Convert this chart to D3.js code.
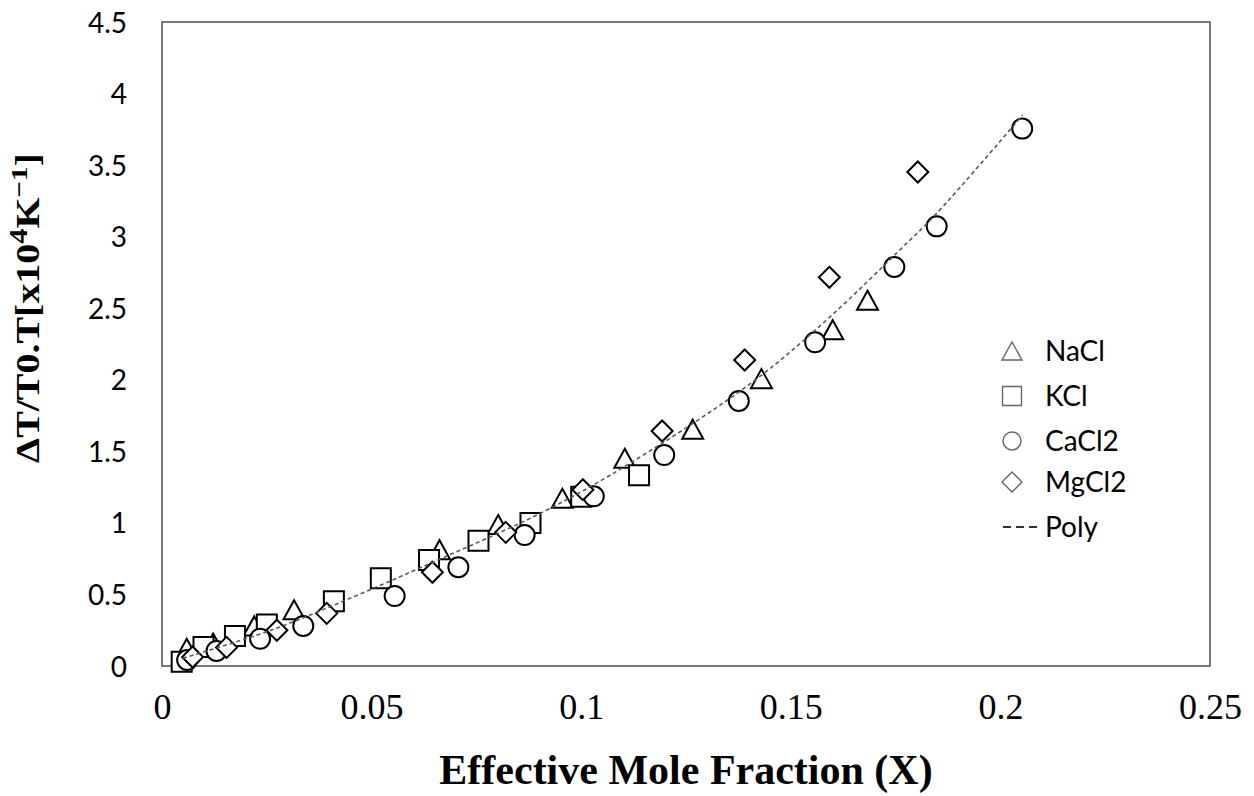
<!DOCTYPE html>
<html>
<head>
<meta charset="utf-8">
<script src="https://cdn.jsdelivr.net/npm/d3@7"></script>
<style>
  html, body { margin: 0; padding: 0; background: #fff; }
  svg { display: block; }
</style>
</head>
<body>
<svg id="chart" width="1254" height="796"></svg>
<script>
// ---------------- data ----------------
const xTicks = [0, 0.05, 0.1, 0.15, 0.2, 0.25];
const xTickLabels = ["0", "0.05", "0.1", "0.15", "0.2", "0.25"];
const yTicks = [0, 0.5, 1, 1.5, 2, 2.5, 3, 3.5, 4, 4.5];
const yTickLabels = ["0", "0.5", "1", "1.5", "2", "2.5", "3", "3.5", "4", "4.5"];

const seriesNames = ["NaCl", "KCl", "CaCl2", "MgCl2"];

const naclX = [0.0059, 0.0122, 0.022, 0.0315, 0.0662, 0.0802, 0.0955, 0.1104, 0.1266, 0.143, 0.160, 0.1683];
const naclY = [0.124, 0.16, 0.28, 0.393, 0.813, 0.989, 1.172, 1.451, 1.655, 2.008, 2.35, 2.555];

const kclX = [0.0047, 0.0099, 0.0174, 0.025, 0.041, 0.0522, 0.0637, 0.0755, 0.0879, 0.100, 0.1138];
const kclY = [0.03, 0.133, 0.21, 0.29, 0.452, 0.613, 0.74, 0.876, 1.0, 1.183, 1.333];

const caclX = [0.006, 0.013, 0.0234, 0.0337, 0.0555, 0.0707, 0.0865, 0.103, 0.1198, 0.1376, 0.1558, 0.1747, 0.1848, 0.2052];
const caclY = [0.042, 0.105, 0.19, 0.28, 0.489, 0.69, 0.915, 1.186, 1.474, 1.852, 2.262, 2.788, 3.072, 3.755];

const mgclX = [0.0073, 0.0154, 0.0274, 0.0393, 0.0645, 0.082, 0.1004, 0.1193, 0.139, 0.1592, 0.1803];
const mgclY = [0.063, 0.13, 0.25, 0.368, 0.655, 0.934, 1.232, 1.642, 2.138, 2.716, 3.452];

// points read along the dashed "Poly" trend line
const polyX = [0.005, 0.026, 0.047, 0.0615, 0.091, 0.1116, 0.141, 0.1594, 0.176, 0.1848, 0.2053];
const polyY = [0.055, 0.25, 0.50, 0.685, 1.078, 1.416, 1.987, 2.441, 2.907, 3.163, 3.85];

// ---------------- layout ----------------
const svg = d3.select("#chart");
const plotL = 162, plotR = 1210, plotT = 22, plotB = 666;

const x = d3.scaleLinear().domain([0, 0.25]).range([plotL, plotR]);
const y = d3.scaleLinear().domain([0, 4.5]).range([plotB, plotT]);

svg.append("rect").attr("width", 1254).attr("height", 796).attr("fill", "#fff");

// plot frame
svg.append("rect")
  .attr("x", plotL).attr("y", plotT)
  .attr("width", plotR - plotL).attr("height", plotB - plotT)
  .attr("fill", "none").attr("stroke", "#404040").attr("stroke-width", 1.4);

// y axis
const gy = svg.append("g").attr("transform", `translate(${plotL},0)`)
  .call(d3.axisLeft(y).tickValues(yTicks).tickFormat((d, i) => yTickLabels[i]).tickSize(0).tickPadding(35));
gy.select(".domain").remove();
gy.selectAll("text")
  .attr("font-family", "Lato, 'Open Sans', sans-serif")
  .attr("font-size", 28).attr("fill", "#000").attr("dy", "0.36em");

// x axis
const gx = svg.append("g").attr("transform", `translate(0,${plotB})`)
  .call(d3.axisBottom(x).tickValues(xTicks).tickFormat((d, i) => xTickLabels[i]).tickSize(0));
gx.select(".domain").remove();
gx.selectAll("text")
  .attr("font-family", "'Liberation Serif', 'Times New Roman', serif")
  .attr("font-size", 36).attr("fill", "#000").attr("y", 53).attr("dy", 0);

// axis titles
svg.append("text")
  .attr("x", 686).attr("y", 784)
  .attr("text-anchor", "middle")
  .attr("font-family", "'Liberation Serif', 'Times New Roman', serif")
  .attr("font-weight", "bold").attr("font-size", 42)
  .text("Effective Mole Fraction (X)");

const yt = svg.append("text")
  .attr("text-anchor", "middle")
  .attr("font-family", "'Liberation Serif', 'Times New Roman', serif")
  .attr("font-weight", "bold").attr("font-size", 33);
yt.append("tspan").text("ΔT/T0.T[x10");
yt.append("tspan").attr("dy", -12).attr("font-size", 25).text("4");
yt.append("tspan").attr("dy", 12).text("K");
yt.append("tspan").attr("dy", -12).attr("font-size", 24).text("−1");
yt.append("tspan").attr("dy", 12).text("]");
{
  const w = yt.node().getComputedTextLength();
  const s = 310 / w;
  yt.attr("transform", `translate(39,308) rotate(-90) scale(${s},1)`);
}

// ---------------- markers ----------------
const shapes = {
  tri: (s) => `M0,${-s * 0.95}L${s * 1.05},${s * 0.95}L${-s * 1.05},${s * 0.95}Z`,
  sq: (s) => `M${-s},${-s}H${s}V${s}H${-s}Z`,
  circ: (s) => `M${s},0A${s},${s} 0 1,1 ${-s},0A${s},${s} 0 1,1 ${s},0Z`,
  dia: (s) => `M0,${-s * 1.05}L${s * 1.05},0L0,${s * 1.05}L${-s * 1.05},0Z`
};

const series = [
  { name: seriesNames[0], xs: naclX, ys: naclY, shape: "tri" },
  { name: seriesNames[1], xs: kclX, ys: kclY, shape: "sq" },
  { name: seriesNames[2], xs: caclX, ys: caclY, shape: "circ" },
  { name: seriesNames[3], xs: mgclX, ys: mgclY, shape: "dia" }
];

series.forEach(sr => {
  const pts = sr.xs.map((v, i) => [v, sr.ys[i]]);
  svg.append("g").selectAll("path").data(pts).join("path")
    .attr("transform", d => `translate(${x(d[0])},${y(d[1])})`)
    .attr("d", shapes[sr.shape](10))
    .attr("fill", "#fff").attr("stroke", "#000").attr("stroke-width", 2);
});

// poly trend line
const polyPts = polyX.map((v, i) => [v, polyY[i]]);
svg.append("path")
  .attr("d", d3.line().x(d => x(d[0])).y(d => y(d[1])).curve(d3.curveCatmullRom)(polyPts))
  .attr("fill", "none").attr("stroke", "#595959").attr("stroke-width", 1.6)
  .attr("stroke-dasharray", "4,3");

// ---------------- legend ----------------
const legendRows = [
  { label: seriesNames[0], shape: "tri", cy: 351 },
  { label: seriesNames[1], shape: "sq", cy: 396 },
  { label: seriesNames[2], shape: "circ", cy: 441 },
  { label: seriesNames[3], shape: "dia", cy: 482 },
  { label: "Poly", shape: "line", cy: 527 }
];
const lg = svg.append("g");
legendRows.forEach(r => {
  if (r.shape === "line") {
    lg.append("line").attr("x1", 1003).attr("x2", 1041).attr("y1", r.cy).attr("y2", r.cy)
      .attr("stroke", "#333").attr("stroke-width", 1.8).attr("stroke-dasharray", "8,5");
  } else {
    lg.append("path").attr("transform", `translate(1012,${r.cy})`)
      .attr("d", shapes[r.shape](r.shape === "circ" ? 9 : 9.5))
      .attr("fill", "#fff").attr("stroke", "#666").attr("stroke-width", 1.4);
  }
  lg.append("text").attr("x", 1045).attr("y", r.cy).attr("dy", "0.36em")
    .attr("font-family", "Lato, 'Open Sans', sans-serif").attr("font-size", 28)
    .attr("fill", "#000").text(r.label);
});
</script>
</body>
</html>
